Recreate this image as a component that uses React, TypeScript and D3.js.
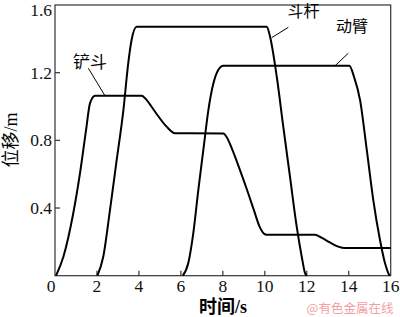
import React from "react";
import * as d3 from "d3";

const xTicks = [0, 2, 4, 6, 8, 10, 12, 14, 16];
const yTicks = [0.4, 0.8, 1.2, 1.6];

// 铲斗 (bucket)
const bucketT = [0.05, 0.4, 0.87, 1.19, 1.48, 1.67, 1.91, 4.13, 4.37, 4.77, 5.32, 5.72, 8.02, 8.2, 8.45, 8.8, 9.2, 9.5, 9.75, 9.95, 10.1, 12.39, 12.7, 13.1, 13.5, 13.82, 16];
const bucketV = [0, 0.112, 0.369, 0.605, 0.861, 1.02, 1.064, 1.064, 1.038, 0.969, 0.881, 0.842, 0.84, 0.815, 0.745, 0.63, 0.49, 0.38, 0.29, 0.25, 0.242, 0.242, 0.225, 0.197, 0.172, 0.163, 0.163];

// 斗杆 (arm)
const armT = [2.02, 2.3, 2.62, 2.94, 3.26, 3.49, 3.65, 3.89, 10.09, 10.25, 10.57, 10.88, 11.2, 11.52, 11.76, 11.92, 12.0];
const armV = [0, 0.112, 0.388, 0.684, 0.979, 1.255, 1.393, 1.472, 1.472, 1.413, 1.176, 0.881, 0.585, 0.29, 0.112, 0.014, 0];

// 动臂 (boom)
const boomT = [6.09, 6.35, 6.59, 6.83, 7.07, 7.31, 7.55, 7.78, 8.02, 14.03, 14.25, 14.54, 14.86, 15.17, 15.49, 15.73, 15.89, 15.95];
const boomV = [0, 0.073, 0.25, 0.506, 0.743, 0.979, 1.137, 1.216, 1.241, 1.241, 1.176, 1.038, 0.743, 0.447, 0.211, 0.073, 0.014, 0];

const seriesNames = ["铲斗", "斗杆", "动臂"];
const labelPos = [
  [1.67, 1.265],
  [11.85, 1.565],
  [14.15, 1.475],
];
const leaderFrom = [
  [1.59, 1.226],
  [11.12, 1.468],
  [13.98, 1.315],
];
const leaderTo = [
  [2.38, 1.064],
  [10.33, 1.407],
  [13.35, 1.241],
];

const W = 400;
const H = 317;
const left = 55;
const right = 390.7;
const top = 5;
const bottom = 275.7;

export default function App() {
  const x = d3.scaleLinear().domain([0, 16]).range([left, right]);
  const y = d3.scaleLinear().domain([0, 1.6]).range([bottom, top]);
  const line = d3
    .line<[number, number]>()
    .x((d) => x(d[0]))
    .y((d) => y(d[1]))
    .curve(d3.curveMonotoneX);

  const series = [
    bucketT.map((t, i) => [t, bucketV[i]] as [number, number]),
    armT.map((t, i) => [t, armV[i]] as [number, number]),
    boomT.map((t, i) => [t, boomV[i]] as [number, number]),
  ];

  const serif = "'Liberation Serif', 'DejaVu Serif', serif";
  const cjk = "'Liberation Serif', 'Noto Sans CJK SC', serif";

  return (
    <svg
      width={W}
      height={H}
      style={{ position: "absolute", left: 0, top: 0, background: "#fff" }}
    >
      <rect x={0} y={0} width={W} height={H} fill="#fff" />
      <rect
        x={left}
        y={top}
        width={right - left}
        height={bottom - top}
        fill="none"
        stroke="#333"
        strokeWidth={1.2}
      />
      {xTicks.map((t) => (
        <g key={"x" + t}>
          {t > 0 && t < 16 && (
            <line x1={x(t)} x2={x(t)} y1={bottom} y2={bottom - 5} stroke="#333" strokeWidth={1.2} />
          )}
          <text
            x={x(t) + (t === 0 ? -4 : 0)}
            y={292}
            textAnchor="middle"
            fontFamily={serif}
            fontSize={17.5}
            fill="#111"
          >
            {t}
          </text>
        </g>
      ))}
      {yTicks.map((v) => (
        <g key={"y" + v}>
          {v < 1.6 && (
            <line x1={left} x2={left + 5} y1={y(v)} y2={y(v)} stroke="#333" strokeWidth={1.2} />
          )}
          <text
            x={52}
            y={Math.max(y(v) + 6, 16)}
            textAnchor="end"
            fontFamily={serif}
            fontSize={17.5}
            fill="#111"
          >
            {v.toFixed(1)}
          </text>
        </g>
      ))}
      {series.map((s, i) => (
        <path key={"s" + i} d={line(s) || ""} fill="none" stroke="#000" strokeWidth={2} />
      ))}
      {seriesNames.map((n, i) => (
        <g key={"l" + i}>
          <line
            x1={x(leaderFrom[i][0])}
            y1={y(leaderFrom[i][1])}
            x2={x(leaderTo[i][0])}
            y2={y(leaderTo[i][1])}
            stroke="#000"
            strokeWidth={1}
          />
          <text
            x={x(labelPos[i][0])}
            y={y(labelPos[i][1]) + 6}
            textAnchor="middle"
            fontFamily={cjk}
            fontSize={i === 0 ? 17 : 16}
            fill="#000"
          >
            {n}
          </text>
        </g>
      ))}
      <text
        transform={`translate(17,140) rotate(-90)`}
        textAnchor="middle"
        fontFamily={cjk}
        fontSize={18}
        fill="#000"
      >
        位移/m
      </text>
      <text x={223} y={313} textAnchor="middle" fontFamily={cjk} fontSize={18} fontWeight={700} fill="#000">
        时间/s
      </text>
      <text x={350} y={313} textAnchor="middle" fontFamily="'Noto Sans CJK SC', sans-serif" fontSize={12.5} fill="#f2a0a0">
        @有色金属在线
      </text>
    </svg>
  );
}
